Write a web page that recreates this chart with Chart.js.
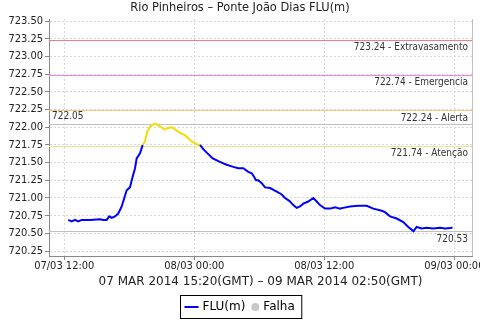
<!DOCTYPE html>
<html>
<head>
<meta charset="utf-8">
<script src="https://cdn.jsdelivr.net/npm/chart.js@4"></script>
<style>
  html, body { margin: 0; padding: 0; background: #fff; }
  #wrap { width: 480px; height: 320px; }
</style>
</head>
<body>
<div id="wrap"><canvas id="myChart" width="480" height="320"></canvas></div>
<script>
// hours since 07/03 00:00 (local time on the axis)
const hours = [12.37, 12.68, 12.99, 13.29, 13.61, 14.37, 15.30, 15.60, 15.91, 16.15, 16.38, 16.68, 16.98, 17.30, 17.54, 17.76, 18.06, 18.31, 18.53, 18.68, 18.99, 19.24, 19.45, 19.66, 19.98, 20.37, 20.68, 20.99, 21.20, 21.60, 21.91, 22.22, 22.68, 23.14, 23.45, 23.76, 24.22, 24.53, 24.83, 25.29, 25.70, 26.22, 26.68, 26.99, 27.60, 28.06, 28.52, 28.98, 29.30, 29.51, 29.70, 29.91, 30.22, 30.53, 30.99, 31.61, 32.07, 32.37, 32.77, 33.14, 33.45, 33.76, 34.06, 34.52, 34.98, 35.30, 35.60, 36.06, 36.53, 36.99, 37.45, 37.75, 38.37, 39.14, 39.91, 40.52, 41.30, 41.60, 42.06, 42.68, 43.29, 43.75, 44.00, 44.22, 44.52, 44.99, 45.45, 46.06, 46.68, 47.14, 47.83];
const flu = [720.69, 720.67, 720.69, 720.67, 720.69, 720.69, 720.70, 720.69, 720.69, 720.74, 720.72, 720.74, 720.78, 720.88, 721.00, 721.11, 721.15, 721.30, 721.42, 721.56, 721.63, 721.75, 721.80, 721.94, 722.02, 722.05, 722.03, 722.00, 721.97, 721.99, 722.00, 721.97, 721.92, 721.89, 721.84, 721.80, 721.76, 721.75, 721.69, 721.62, 721.56, 721.52, 721.49, 721.47, 721.44, 721.42, 721.42, 721.37, 721.35, 721.30, 721.25, 721.25, 721.21, 721.15, 721.14, 721.09, 721.05, 721.00, 720.96, 720.90, 720.86, 720.88, 720.92, 720.95, 721.00, 720.95, 720.90, 720.85, 720.85, 720.87, 720.85, 720.86, 720.88, 720.89, 720.89, 720.85, 720.82, 720.80, 720.74, 720.71, 720.66, 720.59, 720.56, 720.53, 720.59, 720.57, 720.58, 720.57, 720.58, 720.57, 720.58, 720.57];

const xTickHours = [12, 24, 36, 48];
const xTickLabels = ["07/03 12:00", "08/03 00:00", "08/03 12:00", "09/03 00:00"];

const levelValues = [723.24, 722.74, 722.24, 721.74];
const levelNames = ["Extravasamento", "Emergencia", "Alerta", "Atenção"];
const levelColors = ["#f08080", "#ee82ee", "#ffc680", "#f2e48a"];

const maxValue = 722.05;
const minValue = 720.53;

const titleText = "Rio Pinheiros \u2013 Ponte João Dias FLU(m)";
const periodText = "07 MAR 2014 15:20(GMT) \u2013 09 MAR 2014 02:50(GMT)";

const BLUE = "#0000ff";
const YELLOW = "#f5dc00";
const attention = levelValues[3];
const FONT = "'DejaVu Sans Condensed', 'DejaVu Sans', sans-serif";

const points = hours.map((h, i) => ({ x: h, y: flu[i] }));

// horizontal reference lines + their labels
const levelLines = {
  id: "levelLines",
  beforeDatasetsDraw(chart) {
    const { ctx, chartArea, scales } = chart;
    const y = scales.y;
    ctx.save();
    ctx.lineWidth = 1;
    const lines = levelValues.map((v, i) => [v, levelColors[i]]);
    lines.push([maxValue, "#c0c0c0"], [minValue, "#c0c0c0"]);
    lines.forEach(([v, c]) => {
      const py = Math.round(y.getPixelForValue(v)) + 0.5;
      ctx.strokeStyle = c;
      ctx.beginPath();
      ctx.moveTo(chartArea.left, py);
      ctx.lineTo(chartArea.right, py);
      ctx.stroke();
    });

    ctx.font = "10px " + FONT;
    ctx.fillStyle = "#333";
    ctx.textBaseline = "top";
    ctx.textAlign = "right";
    levelValues.forEach((v, i) => {
      const py = y.getPixelForValue(v);
      ctx.fillText(v.toFixed(2) + " - " + levelNames[i], chartArea.right - 4, py + 3);
    });
    ctx.fillText(minValue.toFixed(2), chartArea.right - 4, y.getPixelForValue(minValue) + 3);
    ctx.textAlign = "left";
    ctx.textBaseline = "bottom";
    ctx.fillText(maxValue.toFixed(2), chartArea.left + 3, y.getPixelForValue(maxValue) - 2);

    // right border of plot
    ctx.strokeStyle = "#c0c0c0";
    ctx.beginPath();
    ctx.moveTo(chartArea.right + 0.5, chartArea.top);
    ctx.lineTo(chartArea.right + 0.5, chartArea.bottom);
    ctx.stroke();
    ctx.restore();
  },
  afterDraw(chart) {
    const { ctx } = chart;
    ctx.save();
    // title
    ctx.font = "12.7px " + FONT;
    ctx.fillStyle = "#222";
    ctx.textAlign = "center";
    ctx.textBaseline = "middle";
    ctx.fillText(titleText, 240, 8);

    // legend
    ctx.font = "12px 'DejaVu Sans'";
    const t1 = "FLU(m)", t2 = "Falha";
    const w1 = ctx.measureText(t1).width, w2 = ctx.measureText(t2).width;
    const boxW = 4 + 14 + 4 + w1 + 6 + 10 + 4 + w2 + 5;
    const bx = Math.round(241 - boxW / 2) + 0.5, by = 295.5, bh = 23;
    ctx.strokeStyle = "#000";
    ctx.lineWidth = 1;
    ctx.strokeRect(bx, by, boxW, bh);
    let cx = bx + 4;
    const cy = by + bh / 2;
    ctx.strokeStyle = BLUE;
    ctx.lineWidth = 2;
    ctx.beginPath();
    ctx.moveTo(cx, cy);
    ctx.lineTo(cx + 14, cy);
    ctx.stroke();
    cx += 18;
    ctx.fillStyle = "#000";
    ctx.textAlign = "left";
    ctx.fillText(t1, cx, cy);
    cx += w1 + 6;
    ctx.fillStyle = "#c8c8c8";
    ctx.beginPath();
    ctx.arc(cx + 4, cy, 4, 0, Math.PI * 2);
    ctx.fill();
    cx += 12;
    ctx.fillStyle = "#000";
    ctx.fillText(t2, cx, cy);
    ctx.restore();
  }
};

const myChart = new Chart(document.getElementById("myChart"), {
  type: "line",
  data: {
    datasets: [
      {
        label: "FLU(m)",
        data: points,
        borderColor: BLUE,
        borderWidth: 2,
        pointRadius: 0,
        fill: false,
        tension: 0,
        segment: {
          borderColor: (c) => (c.p0.parsed.y > attention && c.p1.parsed.y > attention) ? YELLOW : undefined,
        },
      },
    ],
  },
  options: {
    responsive: false,
    animation: false,
    events: [],
    layout: {
      padding: { top: 19, right: 8, bottom: 28, left: 0 },
    },
    scales: {
      x: {
        type: "linear",
        min: 10.59,
        max: 49.63,
        afterFit: (scale) => {
          scale.height = 36;
          scale.paddingLeft = 0;
          scale.paddingRight = 0;
        },
        afterBuildTicks: (scale) => { scale.ticks = xTickHours.map((v) => ({ value: v })); },
        border: { color: "#888", width: 1, dash: [2, 2] },
        grid: {
          color: "#d8d8d8",
          tickColor: "#888",
          tickLength: 4,
          tickBorderDash: [],
        },
        ticks: {
          padding: 0,
          maxRotation: 0,
          color: "#222",
          font: { family: FONT, size: 11 },
          callback: (v) => xTickLabels[xTickHours.indexOf(v)] || "",
        },
        title: {
          display: true,
          text: periodText,
          color: "#222",
          font: { family: "DejaVu Sans", size: 12 },
          padding: { top: 0, bottom: 3 },
        },
      },
      y: {
        min: 720.18,
        max: 723.53,
        afterFit: (scale) => { scale.width = 49; },
        border: { color: "#888", width: 1, dash: [2, 2] },
        grid: {
          color: "#d8d8d8",
          tickColor: "#888",
          tickLength: 4,
          tickBorderDash: [],
        },
        ticks: {
          stepSize: 0.25,
          includeBounds: false,
          padding: 2,
          color: "#222",
          font: { family: FONT, size: 11 },
          callback: (v) => v.toFixed(2),
        },
      },
    },
    plugins: {
      legend: { display: false },
      tooltip: { enabled: false },
    },
  },
  plugins: [levelLines],
});
</script>
</body>
</html>
